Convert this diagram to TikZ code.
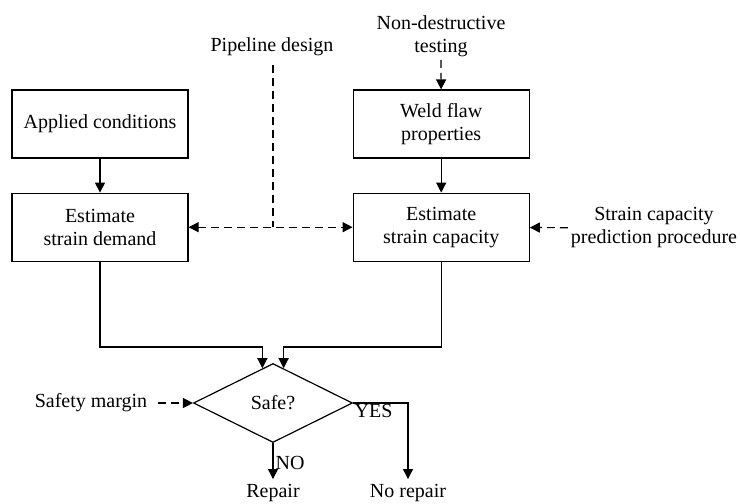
\documentclass[tikz,border=0pt]{standalone}
\usepackage{fontspec}
\setmainfont{Liberation Serif}
\usetikzlibrary{arrows.meta,positioning,shapes.geometric}

\begin{document}
\begin{tikzpicture}[
  x=1pt,y=-1pt,
  node distance=34pt and 164pt,
  font=\fontsize{20}{23}\selectfont,
  box/.style={draw,line width=1.2pt,minimum width=176pt,minimum height=68pt,align=center,inner sep=2pt},
  dec/.style={draw,line width=1.2pt,diamond,minimum width=159pt,minimum height=79pt,inner sep=0pt},
  txt/.style={align=center,inner sep=3pt},
  arr/.style={-{Triangle[length=10pt,width=10pt]},line width=1.2pt},
  darr/.style={arr,dash pattern=on 8pt off 5pt}]
  \useasboundingbox (0,0) rectangle (740,504);
  \node[box] (ac) at (100,124) {Applied conditions};
  \node[box,below=of ac] (sd) {Estimate\\strain demand};
  \node[box,right=of ac] (wf) {Weld flaw\\properties};
  \node[box,below=of wf] (sc) {Estimate\\strain capacity};
  \node[txt] (pd) at (272,47) {Pipeline design};
  \node[txt] (nd) at (441,36) {Non-destructive\\testing};
  \node[txt] (cp) at (654,228) {Strain capacity\\prediction procedure};
  \node[dec] (sf) at (273,403) {Safe?};
  \node[txt] (sm) at (91,403) {Safety margin};
  \node[txt,inner sep=1pt] (rp) at (273,493) {Repair};
  \node[txt,inner sep=1pt] (nr) at (408,493) {No repair};
  \coordinate (mid) at (273,347);
  \draw[arr] (ac) -- (sd);
  \draw[arr] (wf) -- (sc);
  \draw[darr] (nd) -- (wf);
  \draw[darr,{Triangle[length=10pt,width=10pt]}-{Triangle[length=10pt,width=10pt]}] (sd) -- (sc);
  \draw[line width=1.2pt,dash pattern=on 8pt off 5pt,shorten <=6pt] (pd.south -| mid) -- (sd.east -| mid);
  \draw[darr] (cp) -- (sc);
  \draw[darr,shorten <=8pt] (sm) -- (sf);
  \draw[arr] (sd.south) -- (sd.south |- mid) -| (sf.107);
  \draw[arr] (sc.south) -- (sc.south |- mid) -| (sf.73);
  \draw[arr,shorten >=4pt] (sf.south) -- node[right,inner sep=2pt]{NO} (rp.north);
  \draw[arr,shorten >=4pt] (sf.east) -| node[pos=0.0,anchor=north west,inner sep=1pt]{YES} (nr.north);
\end{tikzpicture}
\end{document}
